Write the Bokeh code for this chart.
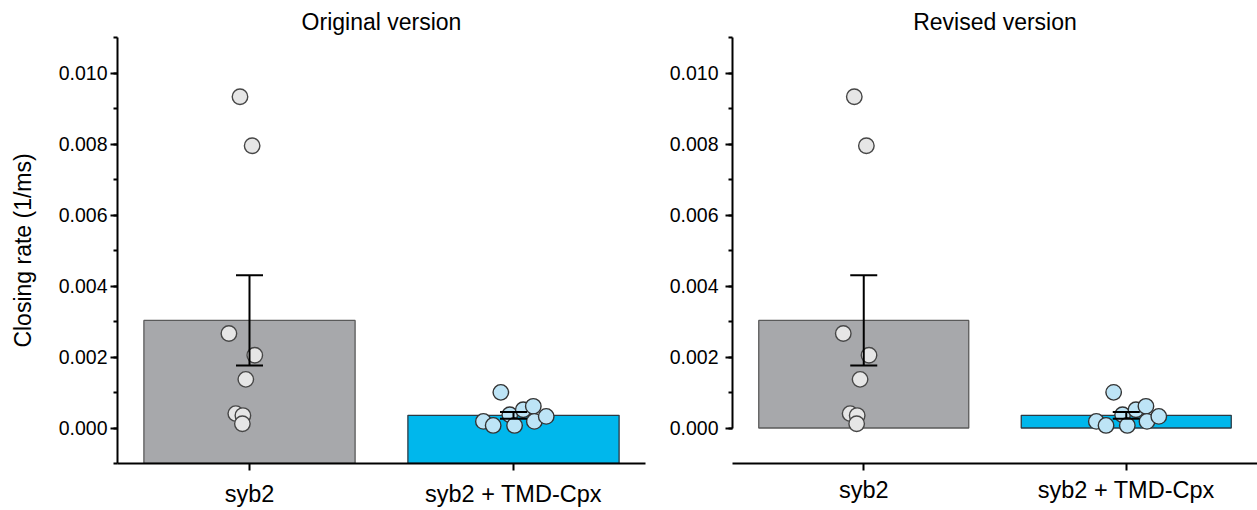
from bokeh.plotting import figure
from bokeh.layouts import row
from bokeh.models import (Range1d, FixedTicker, SingleIntervalTicker, NumeralTickFormatter,
                          Whisker, TeeHead, ColumnDataSource)
from bokeh.embed import file_html
from bokeh.resources import INLINE

# ---------------- data ----------------
categories = ["syb2", "syb2 + TMD-Cpx"]
bar_means = [0.00303, 0.000357]
bar_sems = [0.00127, 0.000095]

syb2_values = [0.00933, 0.00795, 0.00266, 0.00205, 0.00137, 0.000405, 0.00035, 0.00012]
syb2_offsets = [-0.036, 0.010, -0.078, 0.020, -0.014, -0.052, -0.025, -0.027]

tmd_values = [0.001004, 0.000186, 0.000073, 0.000375, 0.000073, 0.000516, 0.00061, 0.000186, 0.000327]
tmd_offsets = [-0.048, -0.114, -0.077, -0.014, 0.004, 0.037, 0.075, 0.079, 0.124]

titles = ["Original version", "Revised version"]
y_label = "Closing rate (1/ms)"

# ---------------- styles ----------------
FONT = "Liberation Sans"
bar_fills = ["#A7A8AB", "#00B7EC"]
bar_lines = ["#5A5A5A", "#2B3A44"]
pt_fills = ["#E6E6E6", "#BDE4F6"]
pt_lines = ["#474747", "#333333"]


def make_panel(title, revised, width, border_left, border_right, border_top, border_bottom,
               title_standoff, ylabel_standoff, xlabel_standoff):
    p = figure(width=width, height=510, output_backend="svg", toolbar_location=None,
               x_range=Range1d(0, 2), y_range=Range1d(-0.001, 0.011),
               min_border_left=border_left, min_border_right=border_right,
               min_border_top=border_top, min_border_bottom=border_bottom)
    p.title.text = title
    p.title.align = "center"
    p.title.text_font = FONT
    p.title.text_font_size = "23px"
    p.title.text_font_style = "normal"
    p.title.text_color = "black"
    p.title.standoff = title_standoff
    p.outline_line_color = None
    p.xgrid.visible = False
    p.ygrid.visible = False

    xs = [i + 0.5 for i in range(len(categories))]
    p.vbar(x=xs, top=bar_means, bottom=0 if revised else -0.001, width=0.8,
           fill_color=bar_fills, line_color=bar_lines, line_width=1.3)

    for i, (vals, offs) in enumerate([(syb2_values, syb2_offsets), (tmd_values, tmd_offsets)]):
        p.scatter(x=[xs[i] + o for o in offs], y=vals, size=15.5,
                  fill_color=pt_fills[i], line_color=pt_lines[i], line_width=1.4)

    src = ColumnDataSource(dict(base=xs,
                                lower=[m - s for m, s in zip(bar_means, bar_sems)],
                                upper=[m + s for m, s in zip(bar_means, bar_sems)]))
    w = Whisker(source=src, base="base", lower="lower", upper="upper",
                line_color="black", line_width=2, level="annotation",
                upper_head=TeeHead(size=27, line_color="black", line_width=2),
                lower_head=TeeHead(size=27, line_color="black", line_width=2))
    p.add_layout(w)

    # y axis
    ya = p.yaxis[0]
    ya.ticker = SingleIntervalTicker(interval=0.002, num_minor_ticks=2)
    ya.formatter = NumeralTickFormatter(format="0.000")
    ya.axis_line_width = 2
    ya.axis_line_color = "black"
    ya.major_tick_line_width = 2
    ya.major_tick_line_color = "black"
    ya.minor_tick_line_width = 2
    ya.minor_tick_line_color = "black"
    ya.major_tick_out = 7
    ya.major_tick_in = 0
    ya.minor_tick_out = 4
    ya.minor_tick_in = 0
    ya.major_label_standoff = ylabel_standoff
    ya.major_label_text_font = FONT
    ya.major_label_text_font_size = "19.5px"
    ya.major_label_text_color = "black"
    if revised:
        ya.bounds = (0, 0.011)
    else:
        ya.axis_label = y_label
        ya.axis_label_text_font = FONT
        ya.axis_label_text_font_size = "23px"
        ya.axis_label_text_font_style = "normal"
        ya.axis_label_text_color = "black"
        ya.axis_label_standoff = 20

    # x axis
    xa = p.xaxis[0]
    xa.ticker = FixedTicker(ticks=xs, minor_ticks=[])
    xa.major_label_overrides = {x: c for x, c in zip(xs, categories)}
    xa.axis_line_width = 2
    xa.axis_line_color = "black"
    xa.major_tick_line_width = 2
    xa.major_tick_line_color = "black"
    xa.major_tick_out = 7
    xa.major_tick_in = 0
    xa.minor_tick_line_color = None
    xa.major_label_standoff = xlabel_standoff
    xa.major_label_text_font = FONT
    xa.major_label_text_font_size = "23.5px"
    xa.major_label_text_color = "black"
    return p


# page origin is (0, 0); the row aligns both frames: x 117-645 and 732-1257, y 37-463
p1 = make_panel(titles[0], False, 660, 117, 15, 37, 47, 5, 3, 10)
p2 = make_panel(titles[1], True, 597, 72, 0, 37, 47, 5, 7, 6)
layout = row(p1, p2)

open("out.html", "w").write(file_html(layout, INLINE))
